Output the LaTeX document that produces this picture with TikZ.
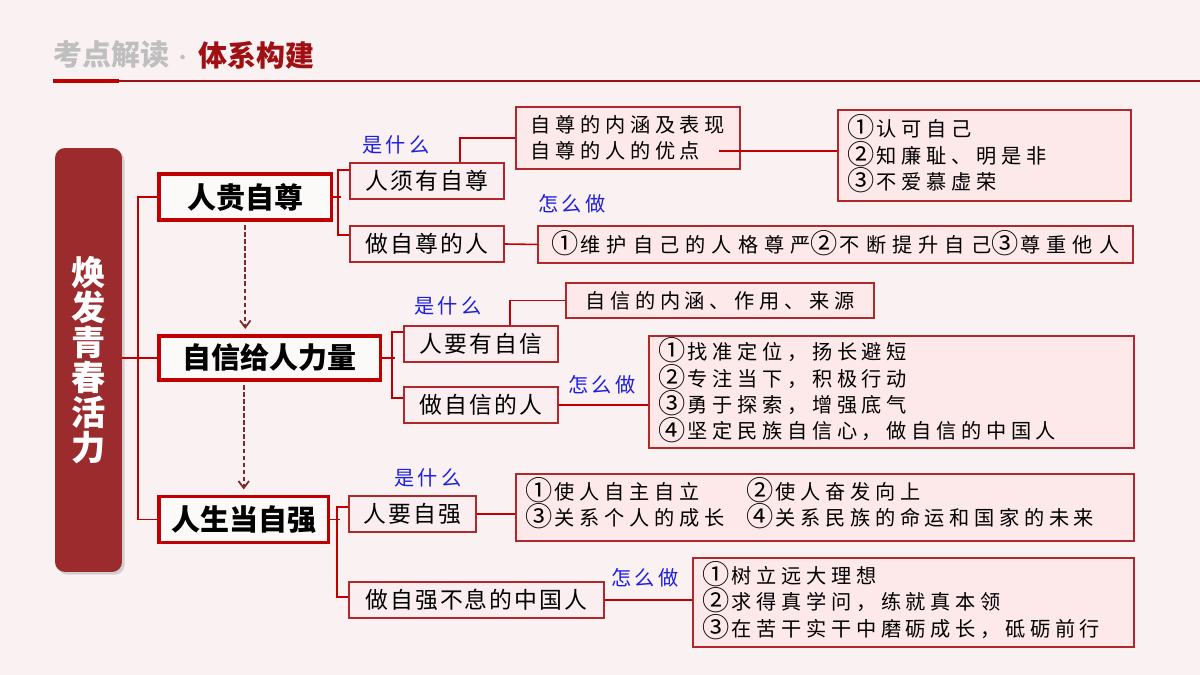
\documentclass[tikz,border=0pt]{standalone}
\usepackage{fontspec}
\usepackage{tikz}
\usetikzlibrary{arrows.meta, calc, positioning, shadows}
\setmainfont{Noto Sans CJK SC}
\newfontfamily\hei{Noto Sans CJK SC}
\newfontfamily\subfont[LetterSpace=9]{Noto Sans CJK SC}
\newfontfamily\contfont[LetterSpace=23]{Noto Sans CJK SC}
\newfontfamily\widefont[LetterSpace=30]{Noto Sans CJK SC}
\newfontfamily\askfont[LetterSpace=15]{Noto Sans CJK SC}
\newcommand\cnum[1]{\smash{\raisebox{-0.6pt}{\hei\fontsize{15.5}{15}\selectfont#1}}\kern1pt}
\definecolor{bgpink}{HTML}{F9F1F2}
\definecolor{headgray}{HTML}{BFBFBF}
\definecolor{headred}{HTML}{A00F12}
\definecolor{mainred}{HTML}{C00000}
\definecolor{barred}{HTML}{9C2B2D}
\definecolor{boxred}{HTML}{B0282C}
\definecolor{linkred}{HTML}{C00000}
\definecolor{flowred}{HTML}{7F2A2A}
\definecolor{subpink}{HTML}{FBEEF0}
\definecolor{contpink}{HTML}{FDE8EA}
\definecolor{askblue}{HTML}{1E1EE0}

\begin{document}
\begin{tikzpicture}[
  x=0.02cm, y=-0.02cm,
  mainbox/.style={draw=mainred, line width=2pt, fill=white!55!bgpink, anchor=west, minimum height=0.9cm, inner sep=0pt, font=\hei\bfseries\fontsize{16.5}{18}\selectfont},
  subbox/.style={draw=boxred, line width=1pt, fill=subpink, anchor=west, minimum height=0.72cm, inner sep=0pt, font=\subfont\fontsize{13}{15}\selectfont},
  contbox/.style={draw=boxred, line width=1.1pt, fill=contpink, anchor=north west, align=left, inner xsep=0.2cm, inner ysep=0pt, font=\contfont\fontsize{11.5}{15}\selectfont},
  ask/.style={text=askblue, inner sep=0pt, font=\askfont\fontsize{11.5}{13}\selectfont},
  link/.style={draw=linkred, line width=0.9pt},
  flow/.style={draw=flowred, line width=1pt, dash pattern=on 2.5pt off 1.5pt, -{Straight Barb[length=4pt, width=6pt]}, shorten <=2pt, shorten >=3pt},
]
% Page and header
\useasboundingbox (0,0) rectangle (1200,675);
\fill[bgpink] (0,0) rectangle (1200,675);
\node[anchor=west, inner sep=0pt, text=headgray, font=\hei\bfseries\fontsize{16.5}{18}\selectfont] (hgray) at (53,55) {考点解读{\mdseries\fontsize{12}{12}\selectfont\,·\,}};
\node[right=0pt of hgray, inner sep=0pt, text=headred, font=\hei\bfseries\fontsize{16.5}{18}\selectfont] (hred) {体系构建};
\draw[headred, line width=0.6pt] (119,81) -- (1200,81);
\draw[mainred, line width=2.2pt] (53,81) -- (119,81);

% Theme bar
\node[fill=barred, rounded corners=0.2cm, minimum width=1.34cm, minimum height=8.48cm, text=white, align=center,
  font=\hei\bfseries\fontsize{19.5}{20}\selectfont, drop shadow={shadow xshift=1.5pt, shadow yshift=-1.5pt, opacity=0.3}] (theme) at (88.5,360) {焕\\发\\青\\春\\活\\力};

% Key points
\node[mainbox, minimum width=3.46cm, minimum height=0.92cm] (k1) at (157,197) {人贵自尊};
\node[mainbox, minimum width=4.44cm, minimum height=0.88cm] (k2) at (157,358) {自信给人力量};
\node[mainbox, minimum width=3.40cm, minimum height=0.92cm] (k3) at (157,519.5) {人生当自强};

% Sub-points
\node[subbox, minimum width=3.08cm] (s11) at (349,181) {人须有自尊};
\node[subbox, minimum width=3.08cm] (s12) at (349,244) {做自尊的人};
\node[subbox, minimum width=3.08cm] (s21) at (403,344) {人要有自信};
\node[subbox, minimum width=3.08cm] (s22) at (403,405) {做自信的人};
\node[subbox, minimum width=2.54cm] (s31) at (348,514) {人要自强};
\node[subbox, minimum width=5.10cm] (s32) at (348,600) {做自强不息的中国人};

% Contents
\node[contbox, minimum width=4.48cm, minimum height=1.24cm] (c11) at (515,106) {自尊的内涵及表现\\自尊的人的优点};
\node[contbox, text width=5.46cm, minimum height=1.82cm] (c12) at (837,109) {\cnum{①}认可自己\\\cnum{②}知廉耻、明是非\\\cnum{③}不爱慕虚荣};
\node[contbox, minimum width=11.9cm, minimum height=0.74cm, font=\widefont\fontsize{11.5}{15}\selectfont] (c13) at (537,225) {\cnum{①}维护自己的人格尊严\cnum{②}不断提升自己\cnum{③}尊重他人};
\node[contbox, minimum width=6.16cm, minimum height=0.70cm] (c21) at (565,282) {自信的内涵、作用、来源};
\node[contbox, text width=9.30cm, minimum height=2.24cm] (c22) at (648,335) {\cnum{①}找准定位，扬长避短\\\cnum{②}专注当下，积极行动\\\cnum{③}勇于探索，增强底气\\\cnum{④}坚定民族自信心，做自信的中国人};
\node[contbox, text width=11.96cm, minimum height=1.34cm] (c31) at (515,473) {\begin{tabular}{@{}l@{\hspace{0.45cm}}l@{}}\cnum{①}使人自主自立 & \cnum{②}使人奋发向上\\\cnum{③}关系个人的成长 & \cnum{④}关系民族的命运和国家的未来\end{tabular}};
\node[contbox, text width=8.42cm, minimum height=1.78cm] (c32) at (692,557) {\cnum{①}树立远大理想\\\cnum{②}求得真学问，练就真本领\\\cnum{③}在苦干实干中磨砺成长，砥砺前行};

% Questions
\node[ask] (a11) at (396,145) {是什么};
\node[ask] (a12) at (572,204) {怎么做};
\node[ask] (a21) at (448,306) {是什么};
\node[ask] (a22) at (602,385) {怎么做};
\node[ask] (a31) at (428,478) {是什么};
\node[ask] (a32) at (645,578) {怎么做};

% Spine
\draw[link] (theme.east |- k2.west) -- (k2.west);
\draw[link] (k1.west) -- ++(-19,0) |- (k3.west);

% Branches
\draw[link] (k1.east) -- ++(8,0);
\draw[link] ($(s11.west)+(0,-11)$) -- ++(-11,0) |- ($(s12.west)+(0,-9)$);
\draw[link] ($(s11.north east)+(-45,0)$) |- (c11.west);
\draw[link] ($(c11.east)+(-22,13)$) coordinate (c11out) -- (c11out -| c12.west);
\draw[link] (s12.east) -- (c13.west);

\draw[link] (k2.east) -- ++(13,0);
\draw[link] ($(s21.west)+(0,-12)$) -- ++(-11,0) |- ($(s22.west)+(0,-7)$);
\draw[link] ($(s21.north east)+(-49,0)$) |- (c21.west);
\draw[link] (s22.east) -- (s22.east -| c22.west);

\draw[link] (k3.east) -- ++(10,0);
\draw[link] ($(s31.west)+(0,-7)$) -- ++(-11,0) |- ($(s32.west)+(0,-3)$);
\draw[link] (s31.east) -- (s31.east -| c31.west);
\draw[link] (s32.east) -- (s32.east -| c32.west);

% Flow between key points
\draw[flow] (k1.south) -- (k1.south |- k2.north);
\draw[flow] (k2.south -| k3.north) -- (k3.north);
\end{tikzpicture}
\end{document}
